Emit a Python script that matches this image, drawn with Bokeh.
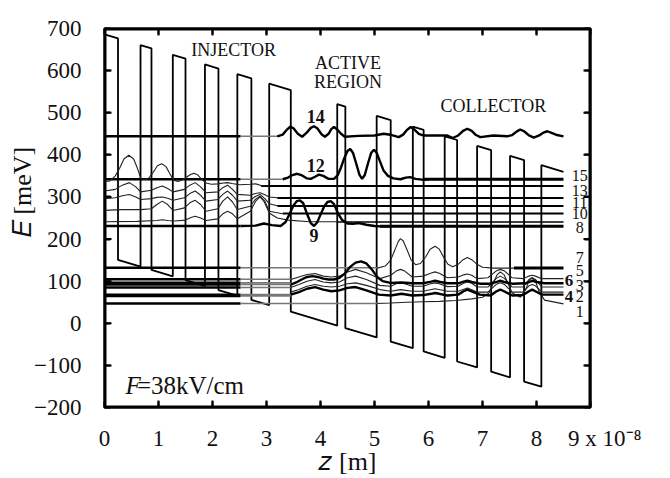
import numpy as np
from bokeh.plotting import figure
from bokeh.models import LinearAxis, FixedTicker, Label, Range1d
from bokeh.embed import file_html
from bokeh.resources import INLINE

# ---------------- data (z in units of 1e-8 m, E in meV) ----------------
barrier_start = [0.0, 0.667, 1.265, 1.86, 2.46, 3.05, 4.31, 5.04, 5.71, 6.30, 6.90, 7.51, 8.09]
barrier_end   = [0.25, 0.87, 1.50, 2.11, 2.72, 3.45, 4.46, 5.30, 5.91, 6.53, 7.16, 7.77, 8.50]
barrier_top_at_0 = 686.0   # meV
field_drop = 38.4          # meV per 1e-8 m  (F = 38 kV/cm)
band_offset = 526.0        # meV

# thick flat levels on the left (previous period)
left_level_E = [444, 342, 231, 132, 104.5, 96, 92, 85, 68, 65, 47]
left_level_z_end = 2.52
# grey thin continuation of those levels
grey_level_E     = [444, 342, 132, 104.5, 96, 92, 85, 68, 65, 47]
grey_level_z_end = [3.25, 3.3, 5.05, 3.45, 3.45, 3.45, 3.45, 3.45, 3.45, 5.05]

# flat levels on the right (next period)
right_level_E       = [342, 326, 297.6, 278.6, 260.4, 240.6, 230.3, 131.4]
right_level_z_start = [5.9, 2.9, 3.2, 3.2, 3.3, 4.3, 5.1, 7.58]
right_level_width   = [3, 2, 2, 2, 2, 1.5, 3, 3]

# wavefunctions (|psi|^2 + E_n), thick
psi14_z = [3.2, 3.3, 3.38, 3.44, 3.5, 3.58, 3.66, 3.74, 3.82, 3.88, 3.94, 4.02, 4.08, 4.15, 4.2, 4.25, 4.31, 4.38, 4.45, 4.7, 5.0, 5.17, 5.32, 5.45, 5.53, 5.6, 5.67, 5.74, 5.82, 5.9, 6.1, 6.35, 6.45, 6.55, 6.64, 6.72, 6.8, 6.88, 6.96, 7.2, 7.46, 7.55, 7.63, 7.70, 7.77, 7.86, 7.95, 8.05, 8.13, 8.2, 8.28, 8.38, 8.5]
psi14_E = [444, 448, 460, 467, 463, 450, 443, 452, 464, 468, 463, 449, 443, 450, 461, 466, 460, 450, 443, 445, 446, 450, 447, 442, 448, 459, 466, 460, 450, 446, 446, 446, 440, 446, 457, 462, 457, 447, 442, 446, 444, 447, 455, 460, 456, 446, 441, 446, 453, 456, 452, 447, 444]

psi12_z = [3.3, 3.4, 3.48, 3.57, 3.66, 3.75, 3.82, 3.9, 3.97, 4.05, 4.15, 4.25, 4.32, 4.38, 4.44, 4.5, 4.55, 4.6, 4.66, 4.72, 4.77, 4.82, 4.88, 4.94, 4.99, 5.04, 5.1, 5.17, 5.25, 5.35, 5.48, 5.58, 5.66, 5.76, 5.88, 6.0]
psi12_E = [342, 346, 352, 355, 351, 344, 343, 348, 353, 350, 343, 343, 352, 370, 392, 409, 414, 405, 380, 353, 343, 352, 380, 405, 412, 405, 385, 362, 350, 344, 342, 346, 347, 343, 341, 342]

psi9_z = [2.52, 2.8, 2.95, 3.1, 3.26, 3.35, 3.43, 3.5, 3.56, 3.62, 3.68, 3.75, 3.82, 3.88, 3.94, 4.0, 4.07, 4.13, 4.19, 4.25, 4.32, 4.4, 4.5, 4.6, 4.71, 4.85, 5.0, 5.11, 5.3]
psi9_E = [231, 232, 237, 233, 231, 240, 260, 280, 290, 292, 285, 260, 238, 231, 240, 258, 278, 288, 290, 283, 262, 245, 237, 236, 238, 234, 231, 230, 230]

psi6_z = [3.45, 3.55, 3.65, 3.75, 3.85, 3.95, 4.05, 4.15, 4.25, 4.35, 4.45, 4.55, 4.65, 4.75, 4.85, 4.95, 5.05, 5.15, 5.3, 5.5, 5.7, 5.9, 6.05, 6.12, 6.22, 6.35, 6.55, 6.65, 6.72, 6.8, 6.95, 7.15, 7.28, 7.33, 7.4, 7.55, 7.8, 7.88, 7.93, 8.0, 8.15, 8.5]
psi6_E = [92, 97, 104, 110, 112, 110, 106, 104, 104, 108, 118, 134, 144, 147, 142, 128, 110, 100, 96, 97, 95, 95, 99, 101, 98, 95, 95, 99, 101, 98, 94, 94, 99, 101, 98, 94, 95, 99, 101, 98, 95, 95]

psi4_z = [3.45, 3.6, 3.75, 3.9, 4.05, 4.2, 4.35, 4.5, 4.65, 4.85, 5.08, 5.3, 5.5, 5.7, 5.9, 6.05, 6.12, 6.2, 6.35, 6.55, 6.65, 6.72, 6.8, 6.95, 7.15, 7.26, 7.33, 7.4, 7.55, 7.75, 7.86, 7.92, 7.98, 8.1, 8.5]
psi4_E = [68, 74, 82, 86, 80, 76, 78, 84, 86, 78, 68, 66, 70, 66, 67, 70, 72, 70, 66, 68, 76, 80, 76, 68, 66, 76, 80, 76, 66, 67, 76, 80, 76, 68, 68]

# wavefunctions, thin
psi13_z = [0.0, 0.1, 0.2, 0.28, 0.36, 0.45, 0.54, 0.61, 0.67, 0.75, 0.82, 0.9, 0.98, 1.06, 1.14, 1.21, 1.28, 1.36, 1.45, 1.53, 1.6, 1.66, 1.73, 1.8, 1.88, 1.98, 2.1, 2.2, 2.28, 2.36, 2.5, 2.7, 2.8, 2.9, 3.05]
psi13_E = [336, 338, 350, 368, 390, 399, 390, 368, 345, 341, 345, 358, 374, 379, 372, 355, 340, 337, 341, 348, 354, 356, 352, 342, 333, 330, 331, 333, 334, 332, 329, 330, 331, 327, 326]

psi11_z = [0.0, 0.2, 0.33, 0.46, 0.58, 0.67, 0.87, 0.97, 1.07, 1.17, 1.27, 1.48, 1.58, 1.68, 1.78, 1.88, 2.1, 2.19, 2.28, 2.37, 2.46, 2.7, 2.79, 2.88, 2.97, 3.05, 3.2]
psi11_E = [314, 318, 328, 334, 324, 312, 316, 322, 326, 320, 312, 318, 328, 334, 324, 310, 312, 322, 328, 318, 306, 304, 308, 310, 305, 300, 298]

psi10_z = [0.0, 0.2, 0.33, 0.46, 0.58, 0.67, 0.87, 0.97, 1.07, 1.17, 1.27, 1.48, 1.58, 1.68, 1.78, 1.88, 2.1, 2.19, 2.28, 2.37, 2.46, 2.7, 2.79, 2.88, 2.97, 3.05, 3.2]
psi10_E = [296, 298, 303, 306, 300, 294, 296, 299, 300, 297, 292, 298, 308, 314, 304, 290, 294, 306, 314, 304, 290, 292, 301, 306, 296, 284, 279]

psi8_z = [0.0, 0.3, 0.67, 0.87, 0.97, 1.07, 1.17, 1.27, 1.48, 1.58, 1.68, 1.78, 1.88, 2.1, 2.19, 2.28, 2.37, 2.46, 2.7, 2.79, 2.88, 2.97, 3.05, 3.3]
psi8_E = [268, 270, 270, 272, 282, 290, 282, 268, 274, 286, 292, 282, 266, 272, 290, 300, 288, 270, 278, 294, 302, 290, 266, 260]

psi7u_z = [0.0, 0.6, 0.97, 1.07, 1.17, 1.3, 1.5, 1.6, 1.68, 1.78, 1.88, 2.1, 2.19, 2.28, 2.37, 2.46, 2.7, 2.8, 2.88, 2.96, 3.05, 3.2, 3.4, 3.8, 4.3]
psi7u_E = [241, 242, 244, 246, 244, 243, 245, 251, 254, 250, 244, 248, 260, 266, 260, 248, 266, 290, 300, 288, 262, 250, 245, 241, 241]

psi7_z = [5.05, 5.2, 5.3, 5.38, 5.44, 5.48, 5.53, 5.6, 5.68, 5.76, 5.85, 5.95, 6.03, 6.12, 6.2, 6.28, 6.36, 6.45, 6.55, 6.64, 6.72, 6.8, 6.9, 7.0, 7.2, 7.58]
psi7_E = [131, 136, 150, 175, 194, 201, 196, 175, 150, 139, 142, 158, 176, 183, 176, 157, 140, 134, 140, 151, 156, 151, 140, 133, 131, 131]

psi5_z = [3.45, 3.6, 3.75, 3.9, 4.05, 4.2, 4.35, 4.5, 4.65, 4.85, 5.1, 5.3, 5.4, 5.48, 5.56, 5.7, 5.9, 6.04, 6.12, 6.2, 6.35, 6.55, 6.65, 6.72, 6.8, 6.9, 7.1, 7.25, 7.33, 7.41, 7.55, 7.75, 7.86, 7.92, 7.98, 8.1, 8.5]
psi5_E = [104, 110, 116, 118, 112, 110, 112, 122, 128, 120, 106, 114, 124, 128, 124, 110, 112, 119, 122, 119, 108, 110, 115, 117, 114, 106, 108, 124, 128, 124, 108, 106, 112, 114, 112, 106, 106]

psi3_z = [3.45, 3.6, 3.75, 3.9, 4.05, 4.2, 4.35, 4.5, 4.65, 4.85, 5.1, 5.3, 5.4, 5.48, 5.56, 5.7, 5.9, 6.04, 6.12, 6.2, 6.35, 6.55, 6.65, 6.72, 6.8, 6.9, 7.1, 7.25, 7.33, 7.41, 7.55, 7.75, 7.86, 7.92, 7.98, 8.1, 8.5]
psi3_E = [85, 92, 100, 104, 98, 96, 98, 108, 112, 104, 90, 88, 94, 96, 94, 88, 88, 94, 96, 94, 87, 88, 95, 98, 95, 86, 86, 106, 112, 106, 86, 86, 104, 108, 104, 86, 86]

psi2_z = [3.45, 3.6, 3.75, 3.9, 4.05, 4.2, 4.35, 4.5, 4.65, 4.85, 5.1, 5.3, 5.48, 5.7, 5.9, 6.12, 6.35, 6.55, 6.72, 6.9, 7.1, 7.25, 7.33, 7.41, 7.55, 7.75, 7.86, 7.92, 7.98, 8.1, 8.5]
psi2_E = [74, 80, 88, 92, 88, 86, 88, 94, 96, 90, 80, 76, 80, 76, 76, 82, 76, 76, 84, 74, 74, 92, 96, 92, 74, 74, 89, 92, 89, 74, 74]

psi1_z = [5.05, 5.3, 5.6, 5.9, 6.2, 6.5, 6.8, 7.0, 7.12, 7.2, 7.27, 7.33, 7.4, 7.47, 7.55, 7.7, 7.8, 7.86, 7.92, 7.98, 8.05, 8.15, 8.5]
psi1_E = [47, 48, 50, 51, 52, 54, 58, 62, 72, 95, 115, 122, 115, 95, 72, 62, 80, 102, 108, 100, 75, 55, 46]

right_labels   = ["15", "13", "11", "10", "8", "7", "5", "3", "2", "1"]
right_labels_E = [351.5, 315.9, 286.7, 260.6, 226.4, 156, 124.2, 90.3, 64.3, 26.9]
bold_labels    = ["6", "4"]
bold_labels_E  = [100.5, 62.5]
x_ticks = [0, 1, 2, 3, 4, 5, 6, 7, 8, 9]
y_ticks = [-200, -100, 0, 100, 200, 300, 400, 500, 600, 700]
x_exponent_text = "9 x 10\u207b\u2078"

SERIF = "Liberation Serif"
FRAME_W, FRAME_H = 486, 381
TICK_PX = 7

def top(z):
    return barrier_top_at_0 - field_drop * z

prof_z, prof_E = [], []
for i, (s, e) in enumerate(zip(barrier_start, barrier_end)):
    if i > 0:
        prof_z += [s]
        prof_E += [top(s) - band_offset]
    prof_z += [s, e]
    prof_E += [top(s), top(e)]
    if i < len(barrier_start) - 1:
        prof_z += [e]
        prof_E += [top(e) - band_offset]

xr = Range1d(x_ticks[0], x_ticks[-1])
yr = Range1d(y_ticks[0], y_ticks[-1])
p = figure(width=670, height=478, x_range=xr, y_range=yr,
           output_backend="svg", toolbar_location=None,
           min_border_left=104, min_border_right=80, min_border_top=28, min_border_bottom=69)
p.grid.visible = False
p.outline_line_color = "black"
p.outline_line_width = 2
p.background_fill_color = "white"
p.border_fill_color = "white"

def style_axis(ax, show_labels):
    ax.axis_line_width = 2
    ax.axis_line_color = "black"
    ax.major_tick_in = 6
    ax.major_tick_out = 0
    ax.major_tick_line_width = 2
    ax.major_tick_line_color = "black"
    ax.minor_tick_line_color = None
    ax.major_label_text_font = SERIF
    ax.major_label_text_font_size = "23px"
    ax.major_label_text_color = "#111111"
    if not show_labels:
        ax.major_label_overrides = {t: "" for t in ax.ticker.ticks}

p.xaxis[0].ticker = FixedTicker(ticks=x_ticks)
p.yaxis[0].ticker = FixedTicker(ticks=y_ticks)
style_axis(p.xaxis[0], True)
style_axis(p.yaxis[0], True)
NB = "\u00a0"
p.xaxis[0].major_label_overrides = {9: NB * 5 + x_exponent_text}
p.xaxis[0].major_label_standoff = 18
p.yaxis[0].major_label_standoff = 23
p.xaxis[0].axis_label = "\U0001D467 [m]"
p.yaxis[0].axis_label = NB * 8 + "\U0001D438 [meV]"
for ax in (p.xaxis[0], p.yaxis[0]):
    ax.axis_label_text_font = SERIF
    ax.axis_label_text_font_size = "26px"
    ax.axis_label_text_font_style = "normal"
    ax.axis_label_text_color = "#111111"
p.xaxis[0].axis_label_standoff = -7
p.yaxis[0].axis_label_standoff = -6

ax_top = LinearAxis(ticker=FixedTicker(ticks=x_ticks))
ax_right = LinearAxis(ticker=FixedTicker(ticks=y_ticks))
style_axis(ax_top, False)
style_axis(ax_right, False)
p.add_layout(ax_top, "above")
p.add_layout(ax_right, "right")

# frame box and inward ticks drawn as glyphs on the data scales
x0, x1, y0, y1 = xr.start, xr.end, yr.start, yr.end
p.line([x0, x1, x1, x0, x0], [y0, y0, y1, y1, y0], line_color="black", line_width=4)
dx = TICK_PX * (x1 - x0) / FRAME_W
dy = TICK_PX * (y1 - y0) / FRAME_H
n_x, n_y = len(x_ticks), len(y_ticks)
tick_style = dict(line_color="black", line_width=2)
p.segment(x0=x_ticks, y0=[y0] * n_x, x1=x_ticks, y1=[y0 + dy] * n_x, **tick_style)
p.segment(x0=x_ticks, y0=[y1] * n_x, x1=x_ticks, y1=[y1 - dy] * n_x, **tick_style)
p.segment(x0=[x0] * n_y, y0=y_ticks, x1=[x0 + dx] * n_y, y1=y_ticks, **tick_style)
p.segment(x0=[x1] * n_y, y0=y_ticks, x1=[x1 - dx] * n_y, y1=y_ticks, **tick_style)

p.line(prof_z, prof_E, line_color="black", line_width=1.8)

for E in left_level_E:
    p.line([0, left_level_z_end], [E, E], line_color="black", line_width=2.5)
for E, ze in zip(grey_level_E, grey_level_z_end):
    p.line([left_level_z_end, ze], [E, E], line_color="#777777", line_width=1.6)

for E, zs, w in zip(right_level_E, right_level_z_start, right_level_width):
    p.line([zs, 8.5], [E, E], line_color="black", line_width=w)

thin = dict(line_color="#222222", line_width=1.1)
thick = dict(line_color="black", line_width=2.4)
for zz, ee in [(psi13_z, psi13_E), (psi11_z, psi11_E), (psi10_z, psi10_E), (psi8_z, psi8_E),
               (psi7u_z, psi7u_E), (psi7_z, psi7_E), (psi5_z, psi5_E), (psi3_z, psi3_E),
               (psi2_z, psi2_E), (psi1_z, psi1_E)]:
    p.line(zz, ee, **thin)
for zz, ee in [(psi14_z, psi14_E), (psi12_z, psi12_E), (psi9_z, psi9_E), (psi6_z, psi6_E), (psi4_z, psi4_E)]:
    p.line(zz, ee, **thick)

def lab(x, y, t, size, style="normal", align="center", baseline="middle", angle=0.0):
    p.add_layout(Label(x=x, y=y, text=t, text_font=SERIF, text_font_size=size,
                       text_font_style=style, text_align=align, text_baseline=baseline,
                       angle=angle, text_color="#111111"))

lab(2.39, 648, "INJECTOR", "18px")
lab(4.51, 617, "ACTIVE", "18px")
lab(4.51, 573, "REGION", "18px")
lab(7.2, 515, "COLLECTOR", "18px")
lab(3.91, 490, "14", "18px", "bold")
lab(3.91, 373.6, "12", "18px", "bold")
lab(3.88, 209, "9", "18px", "bold")
for t, E in zip(right_labels, right_labels_E):
    lab(8.8, E, t, "16px")
for t, E in zip(bold_labels, bold_labels_E):
    lab(8.6, E, t, "17px", "bold")

lab(0.39, -147, "F", "25px", "italic", align="left", baseline="alphabetic")
lab(0.60, -147, "=38kV/cm", "25px", align="left", baseline="alphabetic")

open("out.html", "w").write(file_html(p, INLINE))
